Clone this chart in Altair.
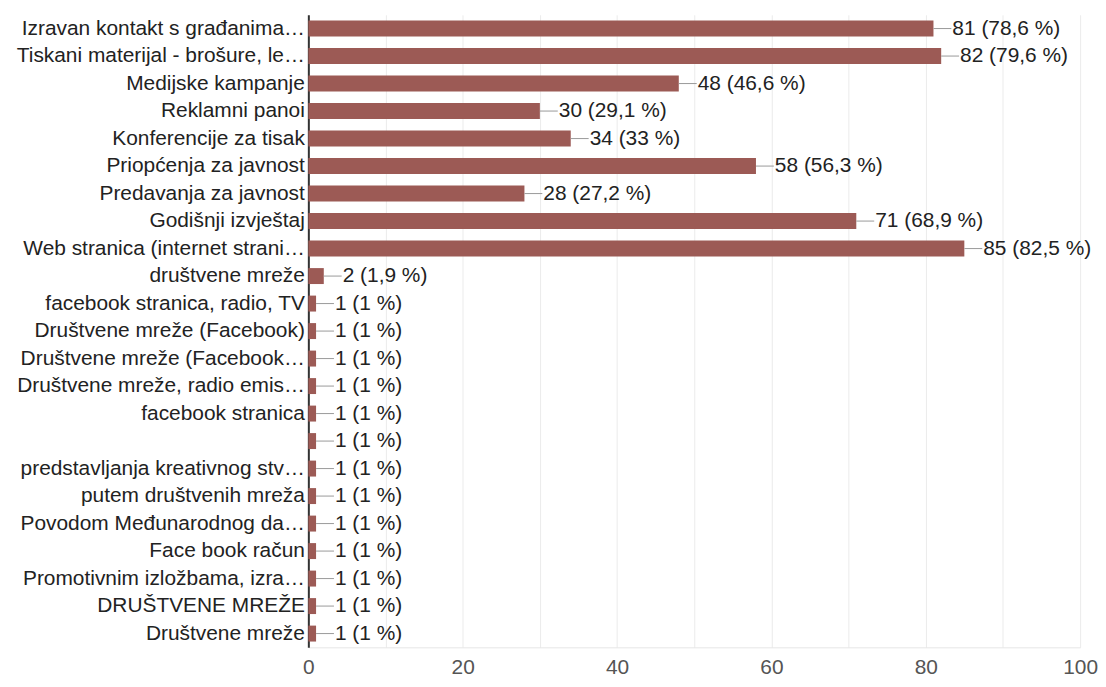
import altair as alt
import pandas as pd

categories = [
    "Izravan kontakt s građanima…",
    "Tiskani materijal - brošure, le…",
    "Medijske kampanje",
    "Reklamni panoi",
    "Konferencije za tisak",
    "Priopćenja za javnost",
    "Predavanja za javnost",
    "Godišnji izvještaj",
    "Web stranica (internet strani…",
    "društvene mreže",
    "facebook stranica, radio, TV",
    "Društvene mreže (Facebook)",
    "Društvene mreže (Facebook…",
    "Društvene mreže, radio emis…",
    "facebook stranica",
    " ",
    "predstavljanja kreativnog stv…",
    "putem društvenih mreža",
    "Povodom Međunarodnog da…",
    "Face book račun",
    "Promotivnim izložbama, izra…",
    "DRUŠTVENE MREŽE",
    "Društvene mreže",
]
counts = [81, 82, 48, 30, 34, 58, 28, 71, 85, 2,
          1, 1, 1, 1, 1, 1, 1, 1, 1, 1, 1, 1, 1]
percents = ["78,6", "79,6", "46,6", "29,1", "33", "56,3", "27,2", "68,9", "82,5", "1,9",
            "1", "1", "1", "1", "1", "1", "1", "1", "1", "1", "1", "1", "1"]

df = pd.DataFrame({
    "cat": categories,
    "count": counts,
    "label": [f"{c} ({p} %)" for c, p in zip(counts, percents)],
})

FONT = "Liberation Sans"
BAR = "#9c5a55"

y_enc = alt.Y(
    "cat:N",
    sort=None,
    title=None,
    scale=alt.Scale(paddingInner=0.42, paddingOuter=0.21),
    axis=alt.Axis(
        labelFont=FONT, labelFontSize=21, labelColor="#222222",
        labelLimit=400, labelPadding=4, ticks=False,
        domainColor="#333333", domainWidth=2, grid=False,
    ),
)
x_enc = alt.X(
    "count:Q",
    title=None,
    scale=alt.Scale(domain=[0, 100], nice=False),
    axis=alt.Axis(
        values=list(range(0, 101, 10)),
        labelExpr="datum.value % 20 == 0 ? datum.label : ''",
        labelFont=FONT, labelFontSize=21, labelColor="#555555",
        labelPadding=9, labelFlush=False, ticks=False, domain=True,
        domainColor="#e6e6e6", grid=True, gridColor="#ebebeb", gridWidth=1,
    ),
)

base = alt.Chart(df)

bars = base.mark_bar(color=BAR).encode(y=y_enc, x=x_enc)

connectors = base.mark_rule(color="#999999", strokeWidth=1, x2Offset=18).encode(
    y=alt.Y("cat:N", sort=None),
    x="count:Q",
    x2="count:Q",
)

texts = base.mark_text(
    align="left", baseline="middle", dx=19, font=FONT, fontSize=21, color="#222222"
).encode(
    y=alt.Y("cat:N", sort=None),
    x="count:Q",
    text="label:N",
)

chart = (
    alt.layer(bars, connectors, texts)
    .properties(width=776, height=636, padding={"left": 8, "top": 5, "right": 0, "bottom": 0})
    .configure_view(stroke=None)
)

chart.save("out.html", embed_options={"renderer": "svg", "actions": False})
